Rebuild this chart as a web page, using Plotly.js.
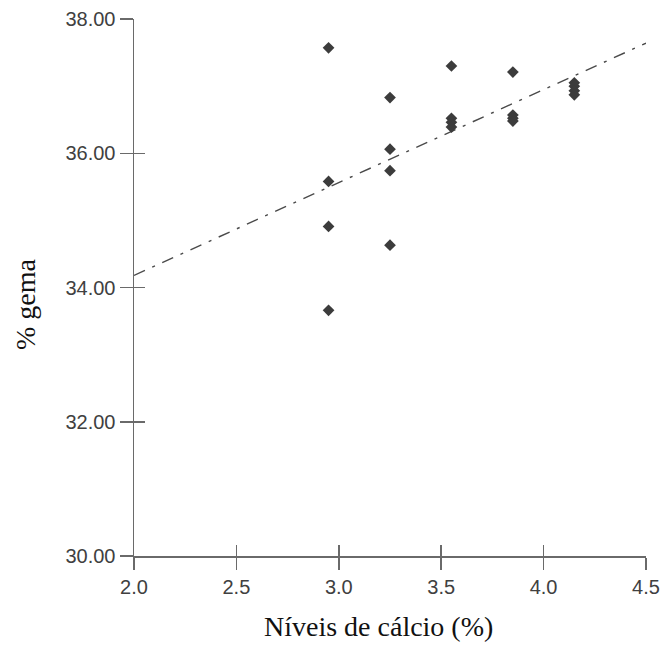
<!DOCTYPE html>
<html>
<head>
<meta charset="utf-8">
<script src="https://cdn.plot.ly/plotly-3.0.1.min.js"></script>
<style>html,body{margin:0;padding:0;background:#fff;}#chart{width:662px;height:646px;}</style>
</head>
<body>
<div id="chart"></div>
<script>
// Observed data: calcium level (%) vs. % yolk (gema)
const calcio = [2.95, 2.95, 2.95, 2.95,
                3.25, 3.25, 3.25, 3.25,
                3.55, 3.55, 3.55, 3.55,
                3.85, 3.85, 3.85, 3.85,
                4.15, 4.15, 4.15, 4.15];
const gema = [37.57, 35.58, 34.91, 33.66,
              36.83, 36.06, 35.74, 34.63,
              37.30, 36.52, 36.46, 36.39,
              37.21, 36.57, 36.52, 36.48,
              37.05, 37.00, 36.93, 36.87];
// Fitted trend line (at both ends)
const fitX = [2.0, 4.5];
const fitY = [34.18, 37.64];
// Axis ticks
const xTicks = [2.0, 2.5, 3.0, 3.5, 4.0, 4.5];
const yTicks = [30, 32, 34, 36, 38];
const xTitle = 'Níveis de cálcio (%)';
const yTitle = '% gema';

const axisColor = '#6a6a6a';
const tickFont = {family: 'Liberation Sans, Arial, sans-serif', size: 20, color: '#404040'};
const titleFont = {family: 'Liberation Serif, Times New Roman, serif', size: 28, color: '#111111'};

const traces = [
  {
    x: fitX, y: fitY, type: 'scatter', mode: 'lines',
    line: {color: '#4a4a4a', width: 1.4, dash: '12px,8px,3px,8px'},
    xaxis: 'x', yaxis: 'y', hoverinfo: 'skip', showlegend: false
  },
  {
    x: calcio, y: gema, type: 'scatter', mode: 'markers',
    marker: {symbol: 'diamond', size: 9, color: '#3c3c3c', line: {width: 0}},
    xaxis: 'x2', yaxis: 'y2', showlegend: false
  }
];

const layout = {
  width: 662, height: 646,
  margin: {l: 134, r: 16, t: 19, b: 90, pad: 0},
  paper_bgcolor: '#ffffff', plot_bgcolor: '#ffffff',
  showlegend: false,
  xaxis: {
    range: [2.0, 4.5], tickvals: xTicks, tickformat: '.1f',
    showline: true, linecolor: axisColor, linewidth: 1.5,
    ticks: 'outside', ticklen: 12, tickwidth: 1.5, tickcolor: axisColor,
    showgrid: false, zeroline: false, tickfont: tickFont, fixedrange: true
  },
  yaxis: {
    range: [30, 38], tickvals: yTicks, tickformat: '.2f',
    showline: true, linecolor: axisColor, linewidth: 1.5,
    ticks: 'outside', ticklen: 13, tickwidth: 1.5, tickcolor: axisColor,
    showgrid: false, zeroline: false, tickfont: tickFont, fixedrange: true
  },
  xaxis2: {
    overlaying: 'x', anchor: 'y2', range: [2.0, 4.5], tickvals: xTicks,
    ticks: 'inside', ticklen: 11, tickwidth: 1.5, tickcolor: axisColor,
    showticklabels: false, showline: false, showgrid: false, zeroline: false, fixedrange: true
  },
  yaxis2: {
    overlaying: 'y', anchor: 'x2', side: 'left', range: [30, 38], tickvals: yTicks,
    ticks: 'inside', ticklen: 11, tickwidth: 1.5, tickcolor: axisColor,
    showticklabels: false, showline: false, showgrid: false, zeroline: false, fixedrange: true
  },
  annotations: [
    {text: xTitle, xref: 'paper', yref: 'paper', x: 0.4775, y: -0.132,
     xanchor: 'center', yanchor: 'middle', showarrow: false, font: titleFont},
    {text: yTitle, xref: 'paper', yref: 'paper', x: -0.213, y: 0.469, textangle: -90,
     xanchor: 'center', yanchor: 'middle', showarrow: false, font: titleFont}
  ]
};

Plotly.newPlot('chart', traces, layout, {staticPlot: true, displayModeBar: false});
</script>
</body>
</html>
